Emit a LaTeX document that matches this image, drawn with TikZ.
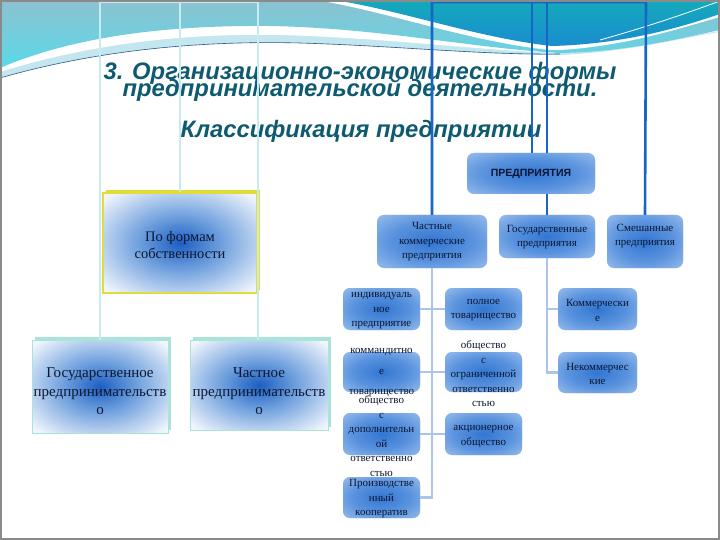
\documentclass[tikz,border=0pt]{standalone}
\usepackage{fontspec}
\setmainfont{Liberation Serif}
\setsansfont{Liberation Sans}
\newfontfamily\titlefont{Liberation Sans}
\usetikzlibrary{positioning}
\definecolor{titlec}{HTML}{0E5A70}
\definecolor{darkln}{HTML}{1766C6}
\definecolor{lightln}{HTML}{A9C6EA}
\definecolor{cyanln}{HTML}{C6ECEF}
\definecolor{rbA}{HTML}{3276D2}
\definecolor{rbB}{HTML}{5A93DE}
\definecolor{rbC}{HTML}{AECBF0}
\definecolor{sqA}{HTML}{1C5EC2}
\definecolor{sqB}{HTML}{6C9EDD}
\definecolor{sqC}{HTML}{F0F5FC}
\definecolor{txtc}{HTML}{0C1630}
\definecolor{yell}{HTML}{E2DC3A}
\definecolor{tealb}{HTML}{A8E4DA}
\definecolor{bandc}{HTML}{80C9DE}
\definecolor{palec}{HTML}{C4E6EF}
\definecolor{tealtop}{HTML}{14AABA}
\definecolor{tealbot}{HTML}{1A8CD0}
\definecolor{framec}{HTML}{8A8A8A}
\definecolor{thinln}{HTML}{2A5A8A}
\pgfdeclareradialshading{rboxshade}{\pgfpointorigin}{color(0bp)=(rbA); color(19bp)=(rbB); color(42bp)=(rbC); color(50bp)=(rbC)}
\pgfdeclareradialshading{sqboxshade}{\pgfpointorigin}{color(0bp)=(sqA); color(13bp)=(sqB); color(33bp)=(sqC); color(50bp)=(sqC)}
\tikzset{
  rbox/.style={rounded corners=7pt, preaction={fill=rbC}, shading=rboxshade, inner sep=0pt},
  sqbox/.style={preaction={fill=sqC}, shading=sqboxshade, inner sep=0pt},
  btext/.style={align=center, text=txtc, font=\fontsize{11}{14.5}\selectfont, inner sep=0pt},
  bigtext/.style={align=center, text=txtc, font=\fontsize{15}{18.5}\selectfont, inner sep=0pt},
  darkline/.style={draw=darkln, line width=2.6pt},
  lightline/.style={draw=lightln, line width=2.6pt},
  cyanline/.style={draw=cyanln, line width=2.4pt},
  ttl/.style={text=titlec, font=\titlefont\bfseries\itshape\fontsize{23.8}{17}\selectfont, anchor=base, inner sep=0pt}
}
\begin{document}
\begin{tikzpicture}[x=1pt,y=-1pt]
\useasboundingbox (0,0) rectangle (720,540);
\fill[white] (0,0) rectangle (720,540);
% ---- background wave ----
\fill[palec] (0,0) -- (0,78) .. controls (80,55) and (180,40) .. (300,43) .. controls (400,46) and (480,55) .. (560,55) .. controls (630,52) and (690,36) .. (720,32) -- (720,0) -- cycle;
\fill[white] (0,0) -- (0,72) .. controls (80,47) and (170,33) .. (280,35) .. controls (390,38) and (470,50) .. (560,53) .. controls (630,51) and (690,35) .. (720,31) -- (720,0) -- cycle;
\shade[top color=bandc!80!gray!90!white, bottom color=bandc!70!cyan] (0,0) -- (0,68) .. controls (70,38) and (160,25) .. (270,26) .. controls (380,28) and (470,48) .. (560,53) .. controls (630,52) and (690,36) .. (720,30) -- (720,0) -- cycle;
\draw[thinln, line width=0.6pt] (0,78) .. controls (80,55) and (180,40) .. (300,43) .. controls (400,46) and (480,55) .. (560,54);
\fill[white] (316,0) .. controls (390,12) and (470,42) .. (550,50) -- (560,50) .. controls (630,46) and (690,25) .. (720,17) -- (720,0) -- cycle;
\shade[top color=tealtop, bottom color=tealbot] (334,0) .. controls (400,10) and (478,38) .. (552,46) .. controls (630,44) and (690,24) .. (720,14) -- (720,0) -- cycle;
\draw[white, line width=0.8pt] (600,40) .. controls (650,26) and (690,12) .. (720,1);
% ---- title ----
\node[ttl] (t1) at (360,80) {3. Организационно-экономические формы};
\node[ttl] (t2) at (360,97) {предпринимательской деятельности.};
\node[ttl] (t3) at (361,138) {Классификация предприятии};
% ---- boxes ----
\node[rbox, minimum width=128pt, minimum height=41pt] (predpr) at (531,173.5) {};
\node[rbox, minimum width=110pt, minimum height=53pt] (chast) at (432,241.5) {};
\node[rbox, minimum width=96pt, minimum height=43pt] (gos) at (547,236.5) {};
\node[rbox, minimum width=76pt, minimum height=53pt] (smesh) at (645,241.5) {};
\node[rbox, minimum width=77pt, minimum height=42pt] (ind) at (381.5,309) {};
\node[rbox, minimum width=77pt, minimum height=40pt] (komm) at (381.5,372) {};
\node[rbox, minimum width=77pt, minimum height=42pt] (odo) at (381.5,434) {};
\node[rbox, minimum width=77pt, minimum height=41pt] (proizv) at (381.5,497.5) {};
\node[rbox, minimum width=77pt, minimum height=42pt] (poln) at (483.5,309) {};
\node[rbox, minimum width=77pt, minimum height=40pt] (ooo) at (483.5,372) {};
\node[rbox, minimum width=77pt, minimum height=42pt] (akc) at (483.5,434) {};
\node[rbox, minimum width=79pt, minimum height=42pt] (kommerch) at (597.5,309) {};
\node[rbox, minimum width=79pt, minimum height=41pt] (nekomm) at (597.5,372.5) {};
% left square boxes with offset shadows
\fill[yell] (106,190) rectangle (260,290);
\node[sqbox, draw=yell, line width=1.2pt, minimum width=154pt, minimum height=100pt] (poformam) at (180,243) {};
\fill[tealb] (35,337) rectangle (171,430);
\node[sqbox, draw=tealb, line width=1pt, minimum width=136pt, minimum height=93pt] (gospr) at (100,386.5) {};
\fill[tealb] (193,337) rectangle (331,427);
\node[sqbox, draw=tealb, line width=1pt, minimum width=138pt, minimum height=90pt] (chastpr) at (259,385) {};
% ---- connectors ----
\coordinate (tl) at (432,2);
\coordinate (tr) at (646,2);
\coordinate (ll) at (100,2);
\coordinate (lr) at (258,2);
\draw[darkline] (chast.north) -- (tl) -- (tr) -- (smesh.north);
\draw[darkline] ([xshift=1pt]predpr.north) -- ([xshift=1pt]predpr.north |- tl);
\draw[darkline] ([xshift=16pt]predpr.north) -- ([xshift=16pt]predpr.north |- tl);
\draw[darkline] (predpr.south -| gos.north) -- (gos.north);
\draw[lightline] (chast.south) |- (proizv.east);
\draw[lightline] (ind.east) -- (poln.west);
\draw[lightline] (komm.east) -- (ooo.west);
\draw[lightline] (odo.east) -- (akc.west);
\draw[lightline] (gos.south) |- (nekomm.west);
\draw[lightline] (gos.south |- kommerch.west) -- (kommerch.west);
\draw[cyanline] (gospr.north) -- (ll) -- (lr) -- (chastpr.north -| lr);
\draw[cyanline] (poformam.north) -- (poformam.north |- ll);
% ---- texts ----
\node[btext, font=\sffamily\bfseries\fontsize{10.5}{12}\selectfont] (predpr-t) at (531,174) {ПРЕДПРИЯТИЯ};
\node[btext] (chast-t) at (432,242) {Частные\\коммерческие\\предприятия};
\node[btext] (gos-t) at (547,237) {Государственные\\предприятия};
\node[btext] (smesh-t) at (645,236) {Смешанные\\предприятия};
\node[btext] (ind-t) at (381.5,311) {индивидуаль\\ное\\предприятие};
\node[btext] (poln-t) at (483.5,310) {полное\\товарищество};
\node[btext] (komm-t) at (381.5,373) {коммандитно\\[6pt]е\\[6pt]товарищество};
\node[btext] (ooo-t) at (483.5,374) {общество\\с\\ограниченной\\ответственно\\стью};
\node[btext] (odo-t) at (381.5,436) {общество\\с\\дополнительн\\ой\\ответственно\\стью};
\node[btext] (akc-t) at (483.5,436.5) {акционерное\\общество};
\node[btext] (proizv-t) at (381.5,499) {Производстве\\нный\\кооператив};
\node[btext] (kommerch-t) at (597.5,310.5) {Коммерчески\\е};
\node[btext] (nekomm-t) at (597.5,374) {Некоммерчес\\кие};
\node[bigtext, font=\fontsize{14.5}{17}\selectfont] (poformam-t) at (180,245.5) {По формам\\собственности};
\node[bigtext] (gospr-t) at (100,391.5) {Государственное\\предпринимательств\\о};
\node[bigtext] (chastpr-t) at (259,391.5) {Частное\\предпринимательств\\о};
% ---- frame ----
\draw[framec, line width=1.2pt] (1,1) rectangle (719,539);
\end{tikzpicture}
\end{document}
